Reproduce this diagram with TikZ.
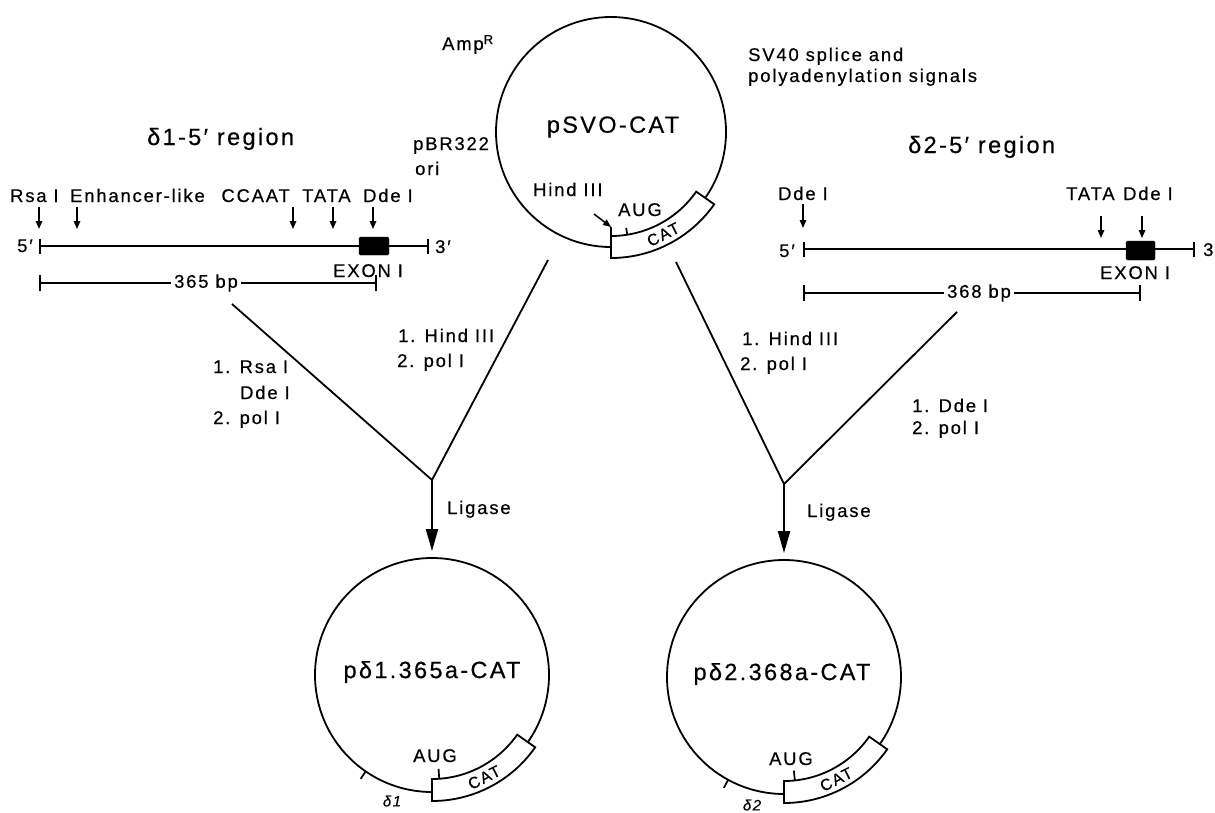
\documentclass[tikz,border=0pt]{standalone}
\usepackage{fontspec}
\setmainfont{Liberation Sans}[LetterSpace=10, FakeBold=0.5]
\usetikzlibrary{arrows.meta,calc}

\tikzset{
  lbl/.style={font=\fontsize{18.4}{21}\selectfont, inner sep=0pt},
  big/.style={font=\fontsize{23.5}{27}\selectfont, inner sep=0pt},
  tiny/.style={font=\fontsize{15}{17}\selectfont\itshape, inner sep=0pt},
  ring/.style={circle, draw, line width=1.8pt, inner sep=0pt},
  band/.style={draw, fill=white, line width=1.8pt, line join=miter},
  seq/.style={line width=1.7pt},
  endbar/.style={seq, {Bar[width=15pt]}-{Bar[width=15pt]}},
  site/.style={line width=1.5pt, -{Triangle[length=8pt,width=6.5pt]}},
  flow/.style={line width=1.8pt},
  ligate/.style={line width=2pt, -{Triangle[length=22pt,width=12pt]}},
  exon/.style={fill=black, draw=black, rounded corners=1.5pt},
}

\begin{document}
\begin{tikzpicture}[x=1pt,y=-1pt]
\useasboundingbox (0,0) rectangle (1215,812);

% ---------------- pSVO-CAT vector ----------------
\node[ring, minimum size=230pt] (svo) at (611,132) {};
\node[big] (svoname) at (613,127) {pSVO-CAT};
\draw[band] ($(svo.center)+(90:104)$) arc[start angle=90,end angle=35,radius=104]
  -- ($(svo.center)+(35:126)$) arc[start angle=35,end angle=90,radius=126] -- cycle;
\draw[seq] ($(svo.center)+(90:95)$) coordinate (hindsite) -- ($(svo.center)+(90:126)$);
\draw[seq] ($(svo.center)+(81:104)$) -- ($(svo.center)+(81:97)$);
\node[lbl, font=\fontsize{16}{18}\selectfont, rotate=27] (svocat) at ($(svo.center)+(63:115)$) {CAT};
\node[lbl, anchor=base west] (svoaug) at (618,216) {AUG};
\node[lbl, anchor=base west] (hind) at (533,196) {Hind III};
\coordinate (hindtail) at (594,214);
\draw[site] (hindtail) -- (hindsite);
\node[lbl, anchor=base west] (amp) at (442,50) {Amp\raisebox{6pt}{\fontsize{13}{15}\selectfont R}};
\node[lbl, anchor=base west] (pbr) at (413,150) {pBR322};
\node[lbl, anchor=base west] (ori) at (415,175) {ori};
\node[lbl, anchor=base west] (sv40a) at (748,61) {SV40 splice and};
\node[lbl, anchor=base west] (sv40b) at (748,82) {polyadenylation signals};

% ---------------- delta-1 5' region ----------------
\node[big, anchor=base west] (t1) at (147,145) {δ1-5′ region};
\node[lbl, anchor=base west] (rsa) at (10,202) {Rsa I};
\node[lbl, anchor=base west] (enh) at (70,202) {Enhancer-like};
\node[lbl, anchor=base east] (ccaat) at (290,202) {CCAAT};
\node[lbl, anchor=base west] (tata1) at (302,202) {TATA};
\node[lbl, anchor=base west] (dde1) at (363,202) {Dde I};
\foreach \x/\n in {39/a,77/b,293/c,333/d,373/e}{
  \draw[site] (\x,207) coordinate (s1\n) -- (\x,229) coordinate (e1\n);
}
\coordinate (l1five) at (39,246);
\coordinate (l1three) at (429,246);
\draw[endbar] (l1five) -- (l1three);
\draw[exon] (359,237) rectangle (389,255);
\node[lbl, anchor=base east] (f1) at (33,252) {5′};
\node[lbl, anchor=base west] (th1) at (435,253) {3′};
\node[lbl, anchor=base west] (ex1) at (333,277) {EXON I};
\node[lbl, inner xsep=3pt] (bp1) at (206,283) {365 bp};
\coordinate (bar1a) at (39,283);
\coordinate (bar1b) at (377,283);
\draw[seq, {Bar[width=16pt]}-] (bar1a) -- (bp1.west);
\draw[seq, -{Bar[width=16pt]}] (bp1.east) -- (bar1b);

% ---------------- delta-2 5' region ----------------
\node[big, anchor=base west] (t2) at (908,153) {δ2-5′ region};
\node[lbl, anchor=base west] (dde2a) at (778,200) {Dde I};
\node[lbl, anchor=base west] (tata2) at (1066,200) {TATA};
\node[lbl, anchor=base west] (dde2b) at (1123,200) {Dde I};
\draw[site] (803,204) coordinate (s2a) -- (803,228) coordinate (e2a);
\draw[site] (1101,216) coordinate (s2b) -- (1101,238) coordinate (e2b);
\draw[site] (1142,216) coordinate (s2c) -- (1142,238) coordinate (e2c);
\coordinate (l2five) at (803,249);
\coordinate (l2three) at (1195,249);
\draw[endbar] (l2five) -- (l2three);
\draw[exon] (1126,241) rectangle (1155,260);
\node[lbl, anchor=base east] (f2) at (795,257) {5′};
\node[lbl, anchor=base west] (th2) at (1203,256) {3};
\node[lbl, anchor=base west] (ex2) at (1100,279) {EXON I};
\node[lbl, inner xsep=3pt] (bp2) at (979,293) {368 bp};
\coordinate (bar2a) at (803,293);
\coordinate (bar2b) at (1141,293);
\draw[seq, {Bar[width=16pt]}-] (bar2a) -- (bp2.west);
\draw[seq, -{Bar[width=16pt]}] (bp2.east) -- (bar2b);

% ---------------- digestion and ligation ----------------
\coordinate (frag1) at (232,304);
\coordinate (vec1) at (548,260);
\coordinate (join1) at (432,480);
\coordinate (vec2) at (676,262);
\coordinate (frag2) at (957,312);
\coordinate (join2) at (784,484);
\draw[flow] (frag1) -- (join1) -- (vec1);
\draw[flow] (vec2) -- (join2) -- (frag2);

\node[lbl, anchor=base west] (r1) at (213,373) {1. Rsa I};
\node[lbl, anchor=base west] (r2) at (240,399) {Dde I};
\node[lbl, anchor=base west] (r3) at (213,424) {2. pol I};
\node[lbl, anchor=base west] (h1) at (398,342) {1. Hind III};
\node[lbl, anchor=base west] (h2) at (397,367) {2. pol I};
\node[lbl, anchor=base west] (h3) at (742,345) {1. Hind III};
\node[lbl, anchor=base west] (h4) at (740,370) {2. pol I};
\node[lbl, anchor=base west] (d1) at (912,412) {1. Dde I};
\node[lbl, anchor=base west] (d2) at (912,434) {2. pol I};
\node[lbl, anchor=base west] (lig1) at (447,514) {Ligase};
\node[lbl, anchor=base west] (lig2) at (807,517) {Ligase};

% ---------------- p delta1.365a-CAT ----------------
\node[ring, minimum size=234pt] (p1) at (432,675) {};
\node[big] (p1name) at (432,672) {pδ1.365a-CAT};
\draw[band] ($(p1.center)+(90:104)$) arc[start angle=90,end angle=35,radius=104]
  -- ($(p1.center)+(35:126)$) arc[start angle=35,end angle=90,radius=126] -- cycle;
\draw[seq] ($(p1.center)+(86:104)$) -- ($(p1.center)+(86:94)$);
\draw[seq] ($(p1.center)+(124.5:117)$) -- ($(p1.center)+(124.5:126)$);
\node[lbl, font=\fontsize{16}{18}\selectfont, rotate=27] (p1cat) at ($(p1.center)+(63:115)$) {CAT};
\node[lbl, anchor=base west] (p1aug) at (413,762) {AUG};
\node[tiny] (p1d) at (392,801) {δ1};
\draw[ligate, shorten >=6pt] (join1) -- (p1.north);

% ---------------- p delta2.368a-CAT ----------------
\node[ring, minimum size=234pt] (p2) at (784,677) {};
\node[big] (p2name) at (782,674) {pδ2.368a-CAT};
\draw[band] ($(p2.center)+(90:104)$) arc[start angle=90,end angle=35,radius=104]
  -- ($(p2.center)+(35:126)$) arc[start angle=35,end angle=90,radius=126] -- cycle;
\draw[seq] ($(p2.center)+(84:104)$) -- ($(p2.center)+(84:94)$);
\draw[seq] ($(p2.center)+(118.5:117)$) -- ($(p2.center)+(118.5:126)$);
\node[lbl, font=\fontsize{16}{18}\selectfont, rotate=27] (p2cat) at ($(p2.center)+(63:115)$) {CAT};
\node[lbl, anchor=base west] (p2aug) at (769,765) {AUG};
\node[tiny] (p2d) at (752,805) {δ2};
\draw[ligate, shorten >=6pt] (join2) -- (p2.north);
\end{tikzpicture}
\end{document}
